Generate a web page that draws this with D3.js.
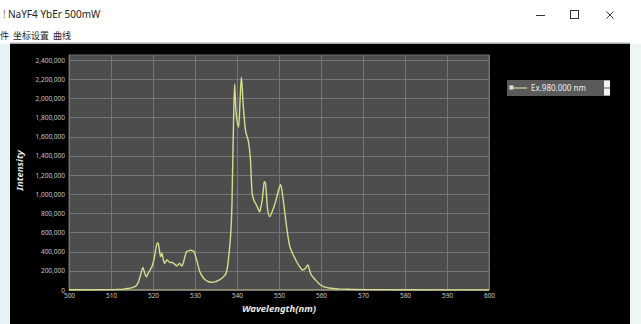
<!DOCTYPE html>
<html>
<head>
<meta charset="utf-8">
<script src="https://cdn.jsdelivr.net/npm/d3@7"></script>
<style>
  html, body { margin: 0; padding: 0; background: #ffffff; }
  svg { display: block; }
</style>
</head>
<body>
<svg id="win" width="641" height="324"></svg>
<script>
// Emission spectrum, NaYF4:Yb,Er under 980 nm excitation at 500 mW
const wavelengths = [
  500, 505, 510, 512, 513, 514, 515, 516, 516.5, 517, 517.6, 518, 518.4, 518.8, 519.3, 519.8,
  520.3, 520.8, 521.2, 521.5, 521.8, 522.1, 522.4, 522.7, 523.0, 523.3, 523.7, 524.1, 524.5,
  524.9, 525.3, 525.7, 526.0, 526.3, 526.6, 526.9, 527.2, 527.5, 528.0, 528.5, 529.0, 529.4,
  529.8, 530.2, 530.6, 531.0, 531.5, 532.0, 532.5, 533.0, 533.5, 534.1, 534.7, 535.3, 535.9,
  536.4, 537.0, 537.4, 537.8, 538.1, 538.4, 538.8, 539.0, 539.2, 539.45, 539.7, 540.0, 540.4,
  540.7, 541.05, 541.45, 542.0, 542.4, 542.8, 543.2, 543.6, 544.0, 544.4, 544.9, 545.4, 545.7,
  546.0, 546.3, 546.5, 546.8, 547.0, 547.3, 547.8, 548.3, 548.8, 549.3, 549.7, 550.1, 550.4,
  550.9, 551.3, 551.6, 552.0, 552.4, 553.2, 553.8, 554.4, 555.0, 555.5, 556.0, 556.3, 556.9,
  557.2, 557.5, 558.0, 558.7, 559.3, 559.9, 561, 562.3, 564, 566, 568, 572, 580, 590, 600
];
const intensities = [
  3000, 3000, 4000, 6000, 9000, 15000, 25000, 45000, 80000, 150000, 232000, 180000, 139000, 170000, 209000, 250000,
  330000, 460000, 494000, 420000, 348000, 383000, 330000, 278000, 295000, 313000, 300000, 285000, 290000,
  278000, 265000, 250000, 265000, 278000, 262000, 250000, 280000, 330000, 400000, 410000, 415000, 410000,
  400000, 340000, 280000, 210000, 160000, 125000, 104000, 90000, 83000, 80000, 85000, 94000, 108000,
  122000, 150000, 174000, 260000, 380000, 520000, 900000, 1360000, 1800000, 2150000, 1900000, 1770000, 1700000,
  1950000, 2220000, 1950000, 1670000, 1600000, 1530000, 1360000, 1010000, 940000, 905000, 860000, 817000, 870000,
  939000, 1060000, 1130000, 1110000, 1000000, 835000, 765000, 810000, 869000, 940000, 1010000, 1070000, 1100000,
  974000, 840000, 730000, 600000, 487000, 383000, 330000, 279000, 240000, 209000, 215000, 226000, 261000,
  220000, 174000, 140000, 104000, 75000, 52000, 30000, 18000, 12000, 8000, 5000, 3500, 2000, 1500, 1500
];
const xTicks = [500, 510, 520, 530, 540, 550, 560, 570, 580, 590, 600];
const yTicks = [0, 200000, 400000, 600000, 800000, 1000000, 1200000, 1400000, 1600000, 1800000, 2000000, 2200000, 2400000];
const seriesName = "Ex.980.000 nm";
const windowTitle = "NaYF4 YbEr 500mW";
const menuItems = ["件", "坐标设置", "曲线"];

const points = wavelengths.map((w, i) => ({ w, v: intensities[i] }));

const svg = d3.select("#win");
const font = "'Noto Sans', 'Noto Sans CJK SC', sans-serif";

// ---- window chrome ----
svg.append("rect").attr("x", 0).attr("y", 0).attr("width", 641).attr("height", 324).attr("fill", "#ffffff");
svg.append("rect").attr("x", 0).attr("y", 44).attr("width", 10).attr("height", 280).attr("fill", "#e7f3f7");
svg.append("rect").attr("x", 630).attr("y", 44).attr("width", 11).attr("height", 280).attr("fill", "#eef6f3");
svg.append("rect").attr("x", 10).attr("y", 44).attr("width", 620).attr("height", 280).attr("fill", "#000000");
svg.append("rect").attr("x", 10).attr("y", 42.5).attr("width", 620).attr("height", 1.5).attr("fill", "#a8a8a8");

svg.append("text").attr("x", 3).attr("y", 18).attr("font-family", font).attr("font-size", 10)
  .attr("fill", "#777").text("!");
svg.append("text").attr("x", 8).attr("y", 18).attr("font-family", font).attr("font-size", 10)
  .attr("fill", "#222").text(windowTitle);

const menu = svg.append("text").attr("x", 0).attr("y", 39).attr("font-family", font)
  .attr("font-size", 9).attr("fill", "#222");
menu.selectAll("tspan").data(menuItems).join("tspan")
  .attr("dx", (d, i) => i === 0 ? 0 : 4).text(d => d);

// window buttons
svg.append("line").attr("x1", 536).attr("x2", 545).attr("y1", 15.5).attr("y2", 15.5)
  .attr("stroke", "#333").attr("stroke-width", 1);
svg.append("rect").attr("x", 570.5).attr("y", 10.5).attr("width", 8).attr("height", 8)
  .attr("fill", "none").attr("stroke", "#333").attr("stroke-width", 1);
svg.append("path").attr("d", "M606.5,11.5 L613.5,18.5 M613.5,11.5 L606.5,18.5")
  .attr("stroke", "#333").attr("stroke-width", 1);

// ---- plot ----
const plot = { left: 69, right: 489, top: 55, bottom: 290 };
const x = d3.scaleLinear().domain([500, 600]).range([plot.left, plot.right]);
const y = d3.scaleLinear().domain([0, 2452000]).range([plot.bottom, plot.top]);

svg.append("rect").attr("x", plot.left).attr("y", plot.top)
  .attr("width", plot.right - plot.left).attr("height", plot.bottom - plot.top)
  .attr("fill", "#4d4d4d").attr("stroke", "#6c6c6c").attr("stroke-width", 1);

const grid = svg.append("g");
grid.selectAll("line.v").data(xTicks).join("line")
  .attr("x1", d => Math.round(x(d)) + 0.5).attr("x2", d => Math.round(x(d)) + 0.5)
  .attr("y1", plot.top).attr("y2", plot.bottom)
  .attr("stroke", "#767676").attr("stroke-width", 1);
grid.selectAll("line.h").data(yTicks).join("line")
  .attr("x1", plot.left).attr("x2", plot.right)
  .attr("y1", d => Math.round(y(d)) + 0.5).attr("y2", d => Math.round(y(d)) + 0.5)
  .attr("stroke", "#767676").attr("stroke-width", 1);

// axes drawn with d3-axis, domain and tick marks hidden
const fmt = d3.format(",");
const xAxis = svg.append("g").attr("transform", `translate(0,${plot.bottom})`)
  .call(d3.axisBottom(x).tickValues(xTicks).tickSize(0).tickPadding(3).tickFormat(d3.format("d")));
const yAxis = svg.append("g").attr("transform", `translate(${plot.left},0)`)
  .call(d3.axisLeft(y).tickValues(yTicks).tickSize(0).tickPadding(4).tickFormat(fmt));
[xAxis, yAxis].forEach(a => {
  a.select(".domain").remove();
  a.selectAll("text").attr("fill", "#c8c8c8").attr("font-family", font).attr("font-size", 6.5);
});
xAxis.selectAll("text").attr("dy", "0.8em");

// baseline strip along the zero line
svg.append("line").attr("x1", plot.left).attr("x2", plot.right)
  .attr("y1", plot.bottom - 0.5).attr("y2", plot.bottom - 0.5)
  .attr("stroke", "#8c9060").attr("stroke-width", 1);

// axis titles
svg.append("text").attr("x", x(550)).attr("y", 311.5).attr("text-anchor", "middle")
  .attr("font-family", font).attr("font-size", 9.5).attr("font-weight", "bold")
  .attr("font-style", "italic").attr("fill", "#e8e8e8").text("Wavelength(nm)");
svg.append("text").attr("transform", `translate(23,${(plot.top + plot.bottom) / 2 - 2}) rotate(-90)`)
  .attr("text-anchor", "middle").attr("font-family", font).attr("font-size", 9.5)
  .attr("font-weight", "bold").attr("font-style", "italic").attr("fill", "#e8e8e8").text("Intensity");

// spectrum line
const line = d3.line().x(d => x(d.w)).y(d => y(d.v)).curve(d3.curveMonotoneX);
svg.append("path").datum(points).attr("d", line)
  .attr("fill", "none").attr("stroke", "#d6dc8c").attr("stroke-width", 1.4)
  .attr("stroke-linejoin", "round");

// ---- legend ----
const lg = svg.append("g").attr("transform", "translate(507,80)");
lg.append("rect").attr("width", 103).attr("height", 16).attr("fill", "#5a5a5a");
lg.append("rect").attr("x", 2.5).attr("y", 5.5).attr("width", 4).attr("height", 4)
  .attr("fill", "#e0e0e0").attr("stroke", "#aaa").attr("stroke-width", 0.5);
lg.append("line").attr("x1", 7).attr("x2", 20).attr("y1", 8).attr("y2", 8)
  .attr("stroke", "#d6dc8c").attr("stroke-width", 1.2);
lg.append("text").attr("x", 24).attr("y", 11).attr("font-family", font).attr("font-size", 8)
  .attr("fill", "#f0f0f0").text(seriesName);
lg.append("rect").attr("x", 97).attr("y", 0.5).attr("width", 6).attr("height", 7)
  .attr("fill", "#f4f4f4");
lg.append("rect").attr("x", 97).attr("y", 8.5).attr("width", 6).attr("height", 7)
  .attr("fill", "#f4f4f4");
</script>
</body>
</html>
